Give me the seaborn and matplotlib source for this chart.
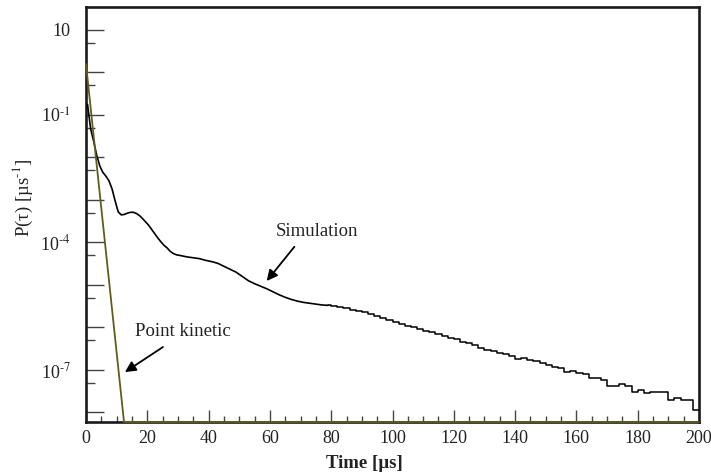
import numpy as np
import pandas as pd
import matplotlib
matplotlib.use("Agg")
import matplotlib.pyplot as plt
import seaborn as sns
from matplotlib.ticker import FixedLocator, FixedFormatter, MultipleLocator, NullFormatter

# ---------------- data ----------------
# Simulation: smooth part (values read at the listed times, µs)
sim_time_smooth = [0.5, 1.5, 2.5, 3.5, 4.5, 5.5, 6.5, 7.5, 8.5, 9.5,
                   10.5, 11.5, 12.5, 13.5, 14.5, 15.5, 16.5, 17.5, 18.5, 19.5,
                   20.5, 21.5, 22.5, 23.5, 24.5, 25.5, 26.5, 27.5, 28.5, 29.5,
                   31, 33, 35, 37, 39, 41, 43, 45, 47, 49,
                   51, 53, 55, 57, 59, 61, 63, 65, 67, 69,
                   71, 73, 75, 77, 79]
sim_log10_smooth = [-0.75, -1.32, -1.62, -1.95, -2.20, -2.35, -2.44, -2.55, -2.74, -3.02,
                    -3.28, -3.35, -3.34, -3.31, -3.29, -3.29, -3.32, -3.37, -3.44, -3.52,
                    -3.60, -3.70, -3.80, -3.90, -3.99, -4.07, -4.13, -4.21, -4.26, -4.29,
                    -4.31, -4.34, -4.36, -4.38, -4.42, -4.45, -4.49, -4.56, -4.63, -4.70,
                    -4.80, -4.90, -4.97, -5.03, -5.09, -5.16, -5.23, -5.29, -5.34, -5.38,
                    -5.41, -5.43, -5.45, -5.47, -5.48]
# Simulation: histogram part, 2 µs bins from 80 to 200 µs (bin start times)
sim_bin_start_late = list(range(80, 200, 2))
sim_log10_late = [-5.50, -5.52, -5.55, -5.58, -5.61,
                  -5.64, -5.69, -5.73, -5.78, -5.83, -5.88, -5.92, -5.96, -5.99, -6.04,
                  -6.08, -6.11, -6.16, -6.19, -6.24, -6.28, -6.34, -6.37, -6.42, -6.48,
                  -6.52, -6.56, -6.60, -6.63, -6.66, -6.73, -6.71, -6.77, -6.80, -6.84,
                  -6.88, -6.94, -6.95, -7.05, -7.02, -7.06, -7.10, -7.18, -7.20, -7.24,
                  -7.38, -7.38, -7.34, -7.37, -7.52, -7.48, -7.53, -7.51, -7.52, -7.51,
                  -7.70, -7.66, -7.71, -7.70, -7.95]
sim_end_time = 200

# Point kinetic curve (straight on log scale, then lying on the lower frame)
pk_time = [0, 12.4, 200]
pk_value = [1.58, 5.97e-9, 5.97e-9]

# axis ticks / labels
x_major = [0, 20, 40, 60, 80, 100, 120, 140, 160, 180, 200]
y_major_exp = [-8, -7, -6, -5, -4, -3, -2, -1, 0, 1]
y_labels = {1: "10", -1: r"10$^{\text{-}1}$", -4: r"10$^{\text{-}4}$", -7: r"10$^{\text{-}7}$"}
y_minor = [5e-8, 5e-7, 5e-6, 5e-5, 5e-4, 5e-3, 5e-2, 5e-1, 5.0]

# ---------------- styling ----------------
sns.set_style("ticks")
plt.rcParams["font.family"] = ["Liberation Serif", "DejaVu Serif"]
plt.rcParams["mathtext.fontset"] = "stix"
FS = 13.5
TFS = 13

fig = plt.figure(figsize=(7.11, 4.75), dpi=100)
ax = fig.add_axes([86 / 711, 1 - 422 / 475, (699 - 86) / 711, (422 - 7) / 475])

df_smooth = pd.DataFrame({"time": sim_time_smooth, "P": 10 ** np.array(sim_log10_smooth)})
late_time = [sim_time_smooth[-1]] + sim_bin_start_late + [sim_end_time]
late_log = [sim_log10_smooth[-1]] + sim_log10_late + [sim_log10_late[-1]]
df_late = pd.DataFrame({"time": late_time, "P": 10 ** np.array(late_log)})
df_pk = pd.DataFrame({"time": pk_time, "P": pk_value})

sns.lineplot(data=df_smooth, x="time", y="P", color="black", lw=1.2,
             estimator=None, sort=False, ax=ax, zorder=3)
sns.lineplot(data=df_late, x="time", y="P", drawstyle="steps-post", color="black",
             lw=1.1, estimator=None, sort=False, ax=ax, zorder=3)
sns.lineplot(data=df_pk, x="time", y="P", color="#5e5e1c", lw=1.3,
             estimator=None, sort=False, ax=ax, zorder=6, clip_on=False)

ax.set_yscale("log")
ax.set_xlim(0, 200)
ax.set_ylim(10 ** -8.224, 10 ** 1.541)

ax.xaxis.set_major_locator(FixedLocator(x_major))
ax.xaxis.set_minor_locator(MultipleLocator(5))
ax.yaxis.set_major_locator(FixedLocator([10.0 ** e for e in y_major_exp]))
ax.yaxis.set_major_formatter(FixedFormatter([y_labels.get(e, "") for e in y_major_exp]))
ax.yaxis.set_minor_locator(FixedLocator(y_minor))
ax.yaxis.set_minor_formatter(NullFormatter())

ax.tick_params(axis="both", which="both", direction="in", color="#444444", width=1.0,
               labelsize=TFS, labelcolor="#222222")
ax.tick_params(axis="y", which="major", length=13, pad=11)
ax.tick_params(axis="y", which="minor", length=6.5)
ax.tick_params(axis="x", which="major", length=8.6, pad=6)
ax.tick_params(axis="x", which="minor", length=4.3)

for s in ax.spines.values():
    s.set_linewidth(1.9)
    s.set_color("#1a1a1a")
    s.set_visible(True)

ax.set_xlabel("")
ax.set_ylabel("")

fig.text(364 / 711, 1 - 463 / 475, "Time [µs]", fontsize=FS, fontweight="bold",
         ha="center", va="center", color="#222222")
fig.text(23 / 711, 1 - 198 / 475, r"P(τ) [µs$^{\text{-}1}$]", fontsize=FS, rotation=90,
         ha="center", va="center", color="#222222")

arrow = dict(arrowstyle="-|>", color="black", lw=1.3, mutation_scale=16,
             shrinkA=0, shrinkB=0)
ax.annotate("", xy=(58.96, 10 ** -4.906), xytext=(68.0, 10 ** -4.10), arrowprops=arrow)
ax.text(75.4, 10 ** -3.73, "Simulation", fontsize=FS, ha="center", va="center",
        color="#222222")
ax.annotate("", xy=(12.7, 10 ** -7.05), xytext=(25.1, 10 ** -6.46), arrowprops=arrow)
ax.text(31.6, 10 ** -6.106, "Point kinetic", fontsize=FS, ha="center", va="center",
        color="#222222")

fig.savefig("out.png", dpi=100)
